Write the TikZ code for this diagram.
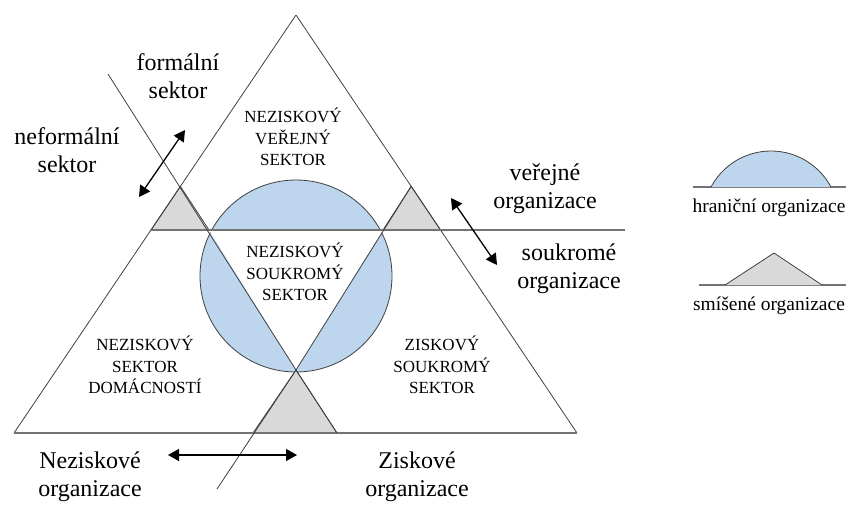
\documentclass[tikz,border=0pt]{standalone}
\usepackage{fontspec}
\setmainfont{Liberation Serif}
\usetikzlibrary{arrows.meta}
\definecolor{hblue}{RGB}{189,214,238}
\definecolor{mgray}{RGB}{217,217,217}
\begin{document}
\begin{tikzpicture}[x=1pt, y=-1pt,
    sector/.style = {align=center, font=\fontsize{17}{21.5}\selectfont},
    side/.style = {align=center, font=\fontsize{24}{28}\selectfont},
    key/.style = {font=\fontsize{19.5}{22}\selectfont}]
  \tikzstyle{thin line}=[draw=black!75, line width=0.8pt]
  \tikzstyle{axis line}=[draw=black!55, line width=2pt]
  \tikzstyle{swing}=[{Triangle[length=11pt, width=12pt]}-{Triangle[length=11pt, width=12pt]}, line width=1.3pt]
  \useasboundingbox (0,0) rectangle (848,504);
  % corners
  \coordinate (top) at (296,15);
  \coordinate (bl) at (14,433);
  \coordinate (br) at (577,433);
  \coordinate (hl) at (151,230);
  \coordinate (hr) at (625,230);
  \coordinate (er) at (440.5,230);
  \coordinate (fs) at (108,74);
  \coordinate (fl) at (180.4,186.4);
  \coordinate (il) at (209,230);
  \coordinate (ib) at (296,370);
  \coordinate (gr) at (337,433);
  \coordinate (fr) at (411.2,186.3);
  \coordinate (ir) at (383,230);
  \coordinate (gl) at (253,433);
  \coordinate (ps) at (217,489);
  % hranicni organizace
  \draw[fill=hblue, thin line] (296,276) circle (96);
  \fill[white] (il) -- (ir) -- (ib) -- cycle;
  % smisene organizace
  \filldraw[fill=mgray, thin line] (fl) -- (hl) -- (il) -- cycle;
  \filldraw[fill=mgray, thin line] (fr) -- (ir) -- (er) -- cycle;
  \filldraw[fill=mgray, thin line] (ib) -- (gl) -- (gr) -- cycle;
  \draw[thin line] (top) -- (bl);
  \draw[thin line] (top) -- (br);
  \draw[axis line] (bl) -- (br);
  \draw[axis line] (hl) -- (hr);
  \draw[thin line] (fs) -- (ib) -- (gr);
  \draw[thin line] (fr) -- (ib) -- (ps);
  % sectors
  \node (verejny) at (293,137) [sector] {NEZISKOVÝ\\VEŘEJNÝ\\SEKTOR};
  \node (soukromy) at (295,272) [sector] {NEZISKOVÝ\\SOUKROMÝ\\SEKTOR};
  \node (domacnosti) at (145,365) [sector] {NEZISKOVÝ\\SEKTOR\\DOMÁCNOSTÍ};
  \node (ziskovy) at (442,365) [sector] {ZISKOVÝ\\SOUKROMÝ\\SEKTOR};
  % sides
  \node (formal) at (178,76) [side] {formální\\sektor};
  \node (neformal) at (67,150) [side] {neformální\\sektor};
  \node (verejne) at (545,189) [side] {veřejné\\organizace};
  \node (soukrome) at (569,269) [side] {soukromé\\organizace};
  \node (nezisk) at (90,477) [side] {Neziskové\\organizace};
  \node (zisk) at (417,477) [side] {Ziskové\\organizace};
  \coordinate (a1) at (139,197);
  \coordinate (a2) at (185,130);
  \coordinate (b1) at (451,198);
  \coordinate (b2) at (497,265);
  \coordinate (c1) at (168,455);
  \coordinate (c2) at (297,455);
  \draw[swing] (a1) -- (a2);
  \draw[swing] (b1) -- (b2);
  \draw[swing] (c1) -- (c2);
  % legend
  \draw[axis line] (693,187) -- (846,187);
  \draw[fill=hblue, thin line] (711,187) arc[start angle=208.1, end angle=331.9, radius=68];
  \node (hranicni) at (769,208) [key] {hraniční organizace};
  \draw[axis line] (699,285) -- (846,285);
  \filldraw[fill=mgray, thin line] (725,285) -- (774,253) -- (822,285);
  \node (smisene) at (769,306) [key] {smíšené organizace};
\end{tikzpicture}
\end{document}
